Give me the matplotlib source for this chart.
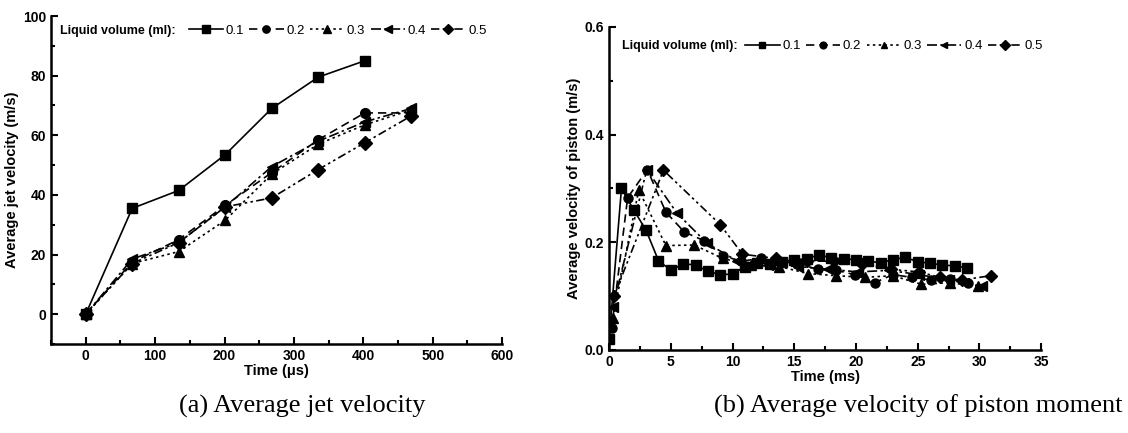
import matplotlib
matplotlib.use("Agg")
import matplotlib.pyplot as plt
from matplotlib.ticker import MultipleLocator, FormatStrFormatter

# (a) average jet velocity, time in microseconds
jet_t_01 = [0, 67, 134, 201, 268, 335, 402]
jet_t = [0, 67, 134, 201, 268, 335, 402, 469]
jet_v01 = [0, 35.5, 41.5, 53.5, 69, 79.5, 85]
jet_v02 = [0, 17.5, 25, 36.5, 47.5, 58.5, 67.5, 67.5]
jet_v03 = [0, 17, 21, 31.5, 47, 57, 63.5, 68.5]
jet_v04 = [0, 18.5, 24, 36, 49.5, 58, 64.5, 69]
jet_v05 = [0, 17, 24, 36, 39, 48.5, 57.5, 66.5]

# (b) average piston velocity, time in milliseconds
pis_t01 = [0, 1, 2, 3, 4, 5, 6, 7, 8, 9, 10, 11, 12, 13, 14, 15, 16, 17, 18, 19,
           20, 21, 22, 23, 24, 25, 26, 27, 28, 29]
pis_v01 = [0.02, 0.30, 0.26, 0.222, 0.166, 0.148, 0.16, 0.158, 0.146, 0.14, 0.141,
           0.155, 0.162, 0.16, 0.163, 0.168, 0.169, 0.177, 0.171, 0.169, 0.168,
           0.165, 0.162, 0.168, 0.172, 0.164, 0.161, 0.158, 0.156, 0.153]
pis_t02 = [0.2, 1.5, 3.1, 4.6, 6.1, 7.7, 9.2, 10.7, 12.3, 13.8, 15.3, 16.9, 18.4,
           19.9, 21.5, 23.0, 24.5, 26.1, 27.6, 29.1]
pis_v02 = [0.04, 0.283, 0.335, 0.256, 0.219, 0.203, 0.175, 0.165, 0.17, 0.165,
           0.16, 0.15, 0.148, 0.14, 0.125, 0.14, 0.135, 0.13, 0.132, 0.125]
pis_t03 = [0.3, 2.4, 4.6, 6.9, 9.2, 11.5, 13.8, 16.1, 18.4, 20.7, 23.0, 25.3,
           27.6, 29.9]
pis_v03 = [0.06, 0.297, 0.194, 0.195, 0.17, 0.158, 0.155, 0.142, 0.138, 0.135,
           0.138, 0.122, 0.125, 0.118]
pis_t04 = [0.3, 3.05, 5.5, 7.95, 10.4, 12.85, 15.3, 17.75, 20.2, 22.65, 25.1,
           27.55, 30.2]
pis_v04 = [0.08, 0.335, 0.254, 0.198, 0.165, 0.158, 0.155, 0.15, 0.145, 0.148,
           0.14, 0.13, 0.118]
pis_t05 = [0.4, 4.4, 9.0, 10.8, 13.5, 16.0, 18.2, 20.5, 22.8, 25.1, 26.8, 28.6, 30.9]
pis_v05 = [0.1, 0.334, 0.233, 0.178, 0.17, 0.165, 0.165, 0.16, 0.15, 0.145, 0.135,
           0.13, 0.138]

labels = ["0.1", "0.2", "0.3", "0.4", "0.5"]
markers = ["s", "o", "^", "<", "D"]
styles = ["-", (0, (5, 3)), (0, (1.5, 2)), (0, (6, 2, 1.5, 2)), (0, (5, 2, 1.5, 2, 1.5, 2))]

plt.rcParams["font.family"] = ["Liberation Sans", "DejaVu Sans"]

fig = plt.figure(figsize=(11.28, 4.33), dpi=100)
ax1 = fig.add_axes([0.0452, 0.2055, 0.400, 0.7575])
ax2 = fig.add_axes([0.540, 0.1917, 0.383, 0.746])


def style_axes(ax):
    for s in ["top", "right"]:
        ax.spines[s].set_visible(False)
    for s in ["left", "bottom"]:
        ax.spines[s].set_linewidth(1.8)
    ax.tick_params(which="both", direction="in", width=1.5)
    ax.tick_params(which="major", length=5, labelsize=10)
    ax.tick_params(which="minor", length=3)
    for lab in ax.get_xticklabels() + ax.get_yticklabels():
        lab.set_fontweight("bold")


def add_legend(ax, lines, x0, y0):
    ax.text(x0, y0, "Liquid volume (ml):", transform=ax.transAxes,
            fontsize=9, fontweight="bold", va="center", ha="left")
    ax.legend(lines, labels, ncol=5, frameon=False, loc="center left",
              bbox_to_anchor=(x0 + 0.285, y0), fontsize=9.5,
              handlelength=2.6, handletextpad=0.2, columnspacing=0.4,
              borderaxespad=0, borderpad=0, markerscale=0.75)


# (a)
jet_sets = [(jet_t_01, jet_v01), (jet_t, jet_v02), (jet_t, jet_v03),
            (jet_t, jet_v04), (jet_t, jet_v05)]
lines1 = []
for (t, v), m, ls in zip(jet_sets, markers, styles):
    ln, = ax1.plot(t, v, color="black", linestyle=ls, marker=m, markersize=7,
                   linewidth=1.2)
    lines1.append(ln)
ax1.set_xlim(-50, 600)
ax1.set_ylim(-10, 100)
ax1.xaxis.set_major_locator(MultipleLocator(100))
ax1.xaxis.set_minor_locator(MultipleLocator(50))
ax1.yaxis.set_major_locator(MultipleLocator(20))
ax1.yaxis.set_minor_locator(MultipleLocator(10))
ax1.set_xlabel("Time (\u03bcs)", fontsize=10.5, fontweight="bold", labelpad=1)
ax1.set_ylabel("Average jet velocity (m/s)", fontsize=10.5, fontweight="bold", labelpad=3)
style_axes(ax1)
add_legend(ax1, lines1, 0.02, 0.955)

# (b)
pis_sets = [(pis_t01, pis_v01), (pis_t02, pis_v02), (pis_t03, pis_v03),
            (pis_t04, pis_v04), (pis_t05, pis_v05)]
lines2 = []
for (t, v), m, ls in zip(pis_sets, markers, styles):
    ln, = ax2.plot(t, v, color="black", linestyle=ls, marker=m, markersize=6.5,
                   linewidth=1.2)
    lines2.append(ln)
ax2.set_xlim(0, 35)
ax2.set_ylim(0, 0.6)
ax2.xaxis.set_major_locator(MultipleLocator(5))
ax2.xaxis.set_minor_locator(MultipleLocator(2.5))
ax2.yaxis.set_major_locator(MultipleLocator(0.2))
ax2.yaxis.set_minor_locator(MultipleLocator(0.1))
ax2.yaxis.set_major_formatter(FormatStrFormatter("%.1f"))
ax2.set_xlabel("Time (ms)", fontsize=10.5, fontweight="bold", labelpad=1)
ax2.set_ylabel("Average velocity of piston (m/s)", fontsize=10.5, fontweight="bold", labelpad=3)
style_axes(ax2)
add_legend(ax2, lines2, 0.03, 0.94)

serif = ["Liberation Serif", "DejaVu Serif"]
fig.text(0.268, 0.062, "(a) Average jet velocity", fontsize=19,
         family=serif, ha="center", va="center")
fig.text(0.995, 0.062, "(b) Average velocity of piston moment", fontsize=19,
         family=serif, ha="right", va="center")

fig.savefig("out.png", dpi=100)
